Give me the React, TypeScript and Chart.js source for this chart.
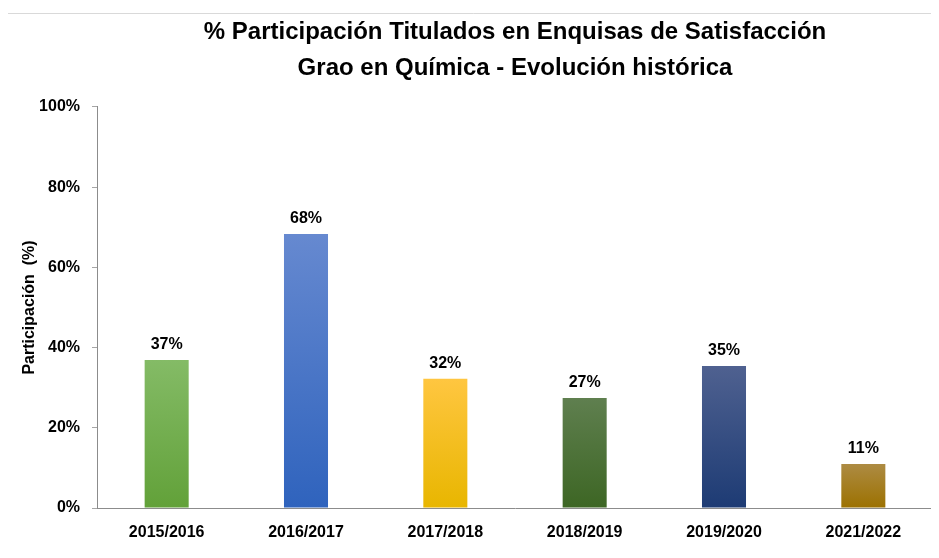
import React, { useEffect, useRef } from "react";
import { Chart, registerables } from "chart.js";

Chart.register(...registerables);

const titleLines = [
  "% Participación Titulados en Enquisas de Satisfacción",
  "Grao en Química - Evolución histórica",
];
const yAxisTitle = "Participación  (%)";
const categories = ["2015/2016", "2016/2017", "2017/2018", "2018/2019", "2019/2020", "2021/2022"];
const participation = [36.9, 68.3, 32.2, 27.4, 35.4, 11.0];
const yTickStep = 20;
const gradientTop = ["#84bb66", "#6689d0", "#ffc640", "#5f7f4f", "#4f6190", "#ad8b43"];
const gradientBottom = ["#62a139", "#2f63bd", "#e8b600", "#3d6624", "#1d3b74", "#9c7100"];

const FONT = "'Liberation Sans', Arial, sans-serif";

export default function App() {
  const ref = useRef<HTMLCanvasElement | null>(null);

  useEffect(() => {
    const canvas = ref.current;
    if (!canvas) return;

    const borderPlugin = {
      id: "frameBorder",
      beforeDraw(chart: any) {
        const ctx = chart.ctx;
        ctx.save();
        ctx.fillStyle = "#ffffff";
        ctx.fillRect(0, 0, chart.width, chart.height);
        ctx.strokeStyle = "#d9d9d9";
        ctx.lineWidth = 1;
        ctx.beginPath();
        ctx.moveTo(7.5, chart.height);
        ctx.lineTo(7.5, 13.5);
        ctx.lineTo(chart.width, 13.5);
        ctx.stroke();
        ctx.restore();
      },
    };

    const labelPlugin = {
      id: "valueLabels",
      afterDatasetsDraw(chart: any) {
        const ctx = chart.ctx;
        const meta = chart.getDatasetMeta(0);
        ctx.save();
        ctx.fillStyle = "#000000";
        ctx.font = `bold 16px ${FONT}`;
        ctx.textAlign = "center";
        ctx.textBaseline = "alphabetic";
        meta.data.forEach((bar: any, i: number) => {
          const v = participation[i];
          ctx.fillText(`${Math.round(v)}%`, bar.x, bar.y - 11);
        });
        ctx.restore();
      },
    };

    const chart = new Chart(canvas, {
      type: "bar",
      data: {
        labels: categories,
        datasets: [
          {
            data: participation,
            backgroundColor: (c: any) => {
              const ch = c.chart;
              const i = c.dataIndex;
              const area = ch.chartArea;
              const y = ch.scales?.y;
              if (!area || !y || i === undefined) return gradientBottom[i ?? 0];
              const top = y.getPixelForValue(participation[i]);
              const g = ch.ctx.createLinearGradient(0, top, 0, area.bottom);
              g.addColorStop(0, gradientTop[i]);
              g.addColorStop(1, gradientBottom[i]);
              return g;
            },
            borderWidth: 0,
            categoryPercentage: 1,
            barPercentage: 0.316,
          },
        ],
      },
      options: {
        animation: false,
        responsive: false,
        maintainAspectRatio: false,
        layout: { padding: { left: 0, right: 6, top: 0, bottom: 0 } },
        plugins: {
          legend: { display: false },
          tooltip: { enabled: false },
          title: {
            display: true,
            fullSize: false,
            text: titleLines,
            color: "#000000",
            font: { family: FONT, size: 24, weight: "bold", lineHeight: 1.52 },
            padding: { top: 14, bottom: 20 },
          },
        },
        scales: {
          x: {
            grid: { display: false, drawTicks: false },
            border: { display: true, color: "#8c8c8c", width: 1 },
            ticks: {
              color: "#000000",
              font: { family: FONT, size: 16, weight: "bold", lineHeight: 1 },
              padding: 17,
              maxRotation: 0,
            },
            afterFit: (s: any) => {
              s.height = 50;
            },
          },
          y: {
            min: 0,
            max: 100,
            ticks: {
              stepSize: yTickStep,
              color: "#000000",
              font: { family: FONT, size: 16, weight: "bold" },
              padding: 12,
              callback: (v: any) => `${v}%`,
            },
            grid: {
              display: true,
              drawOnChartArea: false,
              drawTicks: true,
              tickLength: 5,
              color: "#a6a6a6",
            },
            border: { display: true, color: "#8c8c8c", width: 1 },
            title: {
              display: true,
              text: yAxisTitle,
              color: "#000000",
              font: { family: FONT, size: 16, weight: "bold", lineHeight: 1.2 },
              padding: { top: 20, bottom: 0 },
            },
            afterFit: (s: any) => {
              s.width = 97;
            },
          },
        },
      },
      plugins: [borderPlugin, labelPlugin],
    } as any);

    return () => chart.destroy();
  }, []);

  return (
    <div style={{ margin: "-8px 0 0 -8px", width: 939, height: 558 }}>
      <canvas ref={ref} width={939} height={558} style={{ display: "block", width: 939, height: 558 }} />
    </div>
  );
}
